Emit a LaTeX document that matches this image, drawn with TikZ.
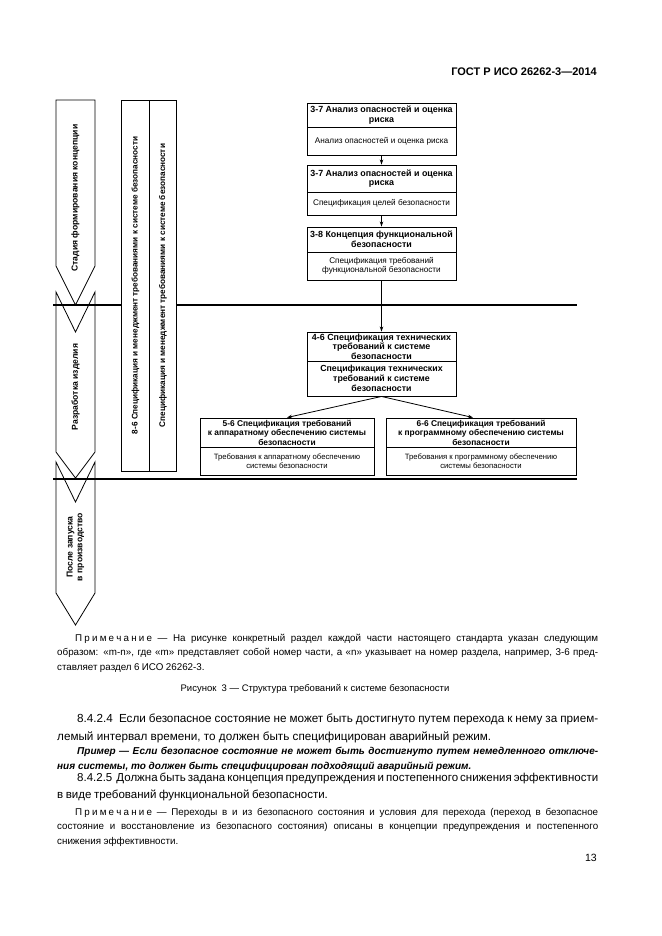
\documentclass[tikz,border=0pt]{standalone}
\usepackage{fontspec}
\setmainfont{Liberation Sans}
\usetikzlibrary{arrows.meta}
\newcommand{\primech}{П\kern2.2pt р\kern2.2pt и\kern2.2pt м\kern2.2pt е\kern2.2pt ч\kern2.2pt а\kern2.2pt н\kern2.2pt и\kern2.2pt е}
\begin{document}
\begin{tikzpicture}[x=1pt,y=-1pt,
  boxline/.style={draw, line width=0.9pt, fill=white, align=center, inner sep=0pt},
  hdr/.style={boxline, font=\bfseries\fontsize{8.9}{9.6}\selectfont},
  bdy/.style={boxline, font=\fontsize{8.2}{9.6}\selectfont},
  arr/.style={line width=0.8pt, -{Stealth[length=5pt,width=3.5pt]}},
  chev/.style={draw, line width=0.8pt, fill=white, line join=miter},
  phase/.style={line width=2.5pt},
  vtxt/.style={rotate=90, font=\bfseries\fontsize{8.6}{9.8}\selectfont, align=center},
  col/.style={draw, line width=0.9pt, fill=white, rotate=90, minimum height=27.5pt, minimum width=371pt, inner sep=0pt, font=\bfseries\fontsize{8.2}{9}\selectfont},
  para/.style={anchor=base west, inner sep=0pt, text width=541pt, align=justify}
]
\useasboundingbox[fill=white] (0,0) rectangle (661,936);

% header
\node[anchor=base east, inner sep=0pt, font=\bfseries\fontsize{11}{13}\selectfont] (hd) at (597,76) {ГОСТ Р ИСО 26262-3—2014};

% phase chevrons
\draw[chev] (56,100) -- (95,100) -- (95,266) -- (75.5,305) -- (56,266) -- cycle;
\draw[chev] (56,292) -- (75.5,332) -- (95,292) -- (95,452) -- (75.5,478) -- (56,452) -- cycle;
\draw[chev] (56,462) -- (75.5,502) -- (95,462) -- (95,593) -- (75.5,625) -- (56,593) -- cycle;

% phase separators
\coordinate (l1a) at (53,305); \coordinate (l1b) at (577,305);
\coordinate (l2a) at (53,479); \coordinate (l2b) at (577,479);
\draw[phase] (l1a) -- (l1b);
\draw[phase] (l2a) -- (l2b);

\node[vtxt] (p1) at (75.5,198) {Стадия формирования концепции};
\node[vtxt] (p2) at (75.5,387) {Разработка изделия};
\node[vtxt] (p3) at (75.5,547) {После запуска\\в производство};

% columns
\node[col] (c1) at (135.5,285.5) {8-6 Спецификация и менеджмент требованиями к системе безопасности};
\node[col] (c2) at (163,285.5) {Спецификация и менеджмент требованиями к системе безопасности};

% boxes
\node[hdr, minimum width=149pt, minimum height=24pt] (h1) at (381.5,115) {3-7 Анализ опасностей и оценка\\риска};
\node[bdy, minimum width=149pt, minimum height=28pt] (b1) at (381.5,141) {Анализ опасностей и оценка риска};

\node[hdr, minimum width=149pt, minimum height=27pt] (h2) at (381.5,178.5) {3-7 Анализ опасностей и оценка\\риска};
\node[bdy, minimum width=149pt, minimum height=23pt] (b2) at (381.5,203.5) {Спецификация целей безопасности};

\node[hdr, minimum width=149pt, minimum height=25pt] (h3) at (381.5,239.5) {3-8 Концепция функциональной\\безопасности};
\node[bdy, minimum width=149pt, minimum height=28pt] (b3) at (381.5,266) {Спецификация требований\\функциональной безопасности};

\node[hdr, minimum width=149pt, minimum height=29pt] (h4) at (381.5,346.5) {4-6 Спецификация технических\\требований к системе\\безопасности};
\node[hdr, font=\bfseries\fontsize{8.8}{10}\selectfont, minimum width=149pt, minimum height=35pt] (b4) at (381.5,378.5) {Спецификация технических\\требований к системе\\безопасности};

\node[hdr, font=\bfseries\fontsize{8.4}{9.5}\selectfont, minimum width=174pt, minimum height=29pt] (h5) at (287,432.5) {5-6 Спецификация требований\\к аппаратному обеспечению системы\\безопасности};
\node[bdy, font=\fontsize{7.7}{9.2}\selectfont, minimum width=174pt, minimum height=28pt] (b5) at (287,461) {Требования к аппаратному обеспечению\\системы безопасности};

\node[hdr, font=\bfseries\fontsize{8.4}{9.5}\selectfont, minimum width=190pt, minimum height=29pt] (h6) at (481,432.5) {6-6 Спецификация требований\\к программному обеспечению системы\\безопасности};
\node[bdy, font=\fontsize{7.7}{9.2}\selectfont, minimum width=190pt, minimum height=28pt] (b6) at (481,461) {Требования к программному обеспечению\\системы безопасности};

% connectors
\draw[arr] (b1.south) -- (h2.north);
\draw[arr] (b2.south) -- (h3.north);
\draw[arr] (b3.south) -- (h4.north);
\draw[arr] (b4.south) -- (h5.north);
\draw[arr] (b4.south) -- ([xshift=-8pt]h6.north);

% text below
\node[para, font=\fontsize{9.8}{14.5}\selectfont] (n1) at (57,641) {\spaceskip=0.25em plus 0.2em minus 0.08em\hspace*{18pt}\primech\ — На рисунке конкретный раздел каждой части настоящего стандарта указан следующим\linebreak образом: «m-n», где «m» представляет собой номер части, а «n» указывает на номер раздела, например, 3-6 пред-\linebreak ставляет раздел 6 ИСО 26262-3.};

\node[anchor=base, inner sep=0pt, font=\fontsize{9.5}{11}\selectfont] (cap) at (315,691) {Рисунок\ \ 3 — Структура требований к системе безопасности};

\node[para, font=\fontsize{11.7}{18}\selectfont] (t1) at (57,722) {\hspace*{20pt}8.4.2.4\ \ Если безопасное состояние не может быть достигнуто путем перехода к нему за прием-\linebreak лемый интервал времени, то должен быть специфицирован аварийный режим.};

\node[para, font=\bfseries\itshape\fontsize{10}{15.5}\selectfont] (t2) at (57,754) {\hspace*{20pt}Пример — Если безопасное состояние не может быть достигнуто путем немедленного отключе-\linebreak ния системы, то должен быть специфицирован подходящий аварийный режим.};

\node[para, font=\fontsize{11.5}{17.5}\selectfont] (t3) at (57,781) {\spaceskip=0.22em plus 0.2em minus 0.1em\hspace*{20pt}8.4.2.5\ \ Должна быть задана концепция предупреждения и постепенного снижения эффективности\linebreak в виде требований функциональной безопасности.};

\node[para, font=\fontsize{9.8}{14.5}\selectfont] (n2) at (57,815) {\spaceskip=0.25em plus 0.2em minus 0.08em\hspace*{18pt}\primech\ — Переходы в и из безопасного состояния и условия для перехода (переход в безопасное\linebreak состояние и восстановление из безопасного состояния) описаны в концепции предупреждения и постепенного\linebreak снижения эффективности.};

\node[anchor=base east, inner sep=0pt, font=\fontsize{10.5}{12}\selectfont] (pg) at (597,861) {13};
\end{tikzpicture}
\end{document}
